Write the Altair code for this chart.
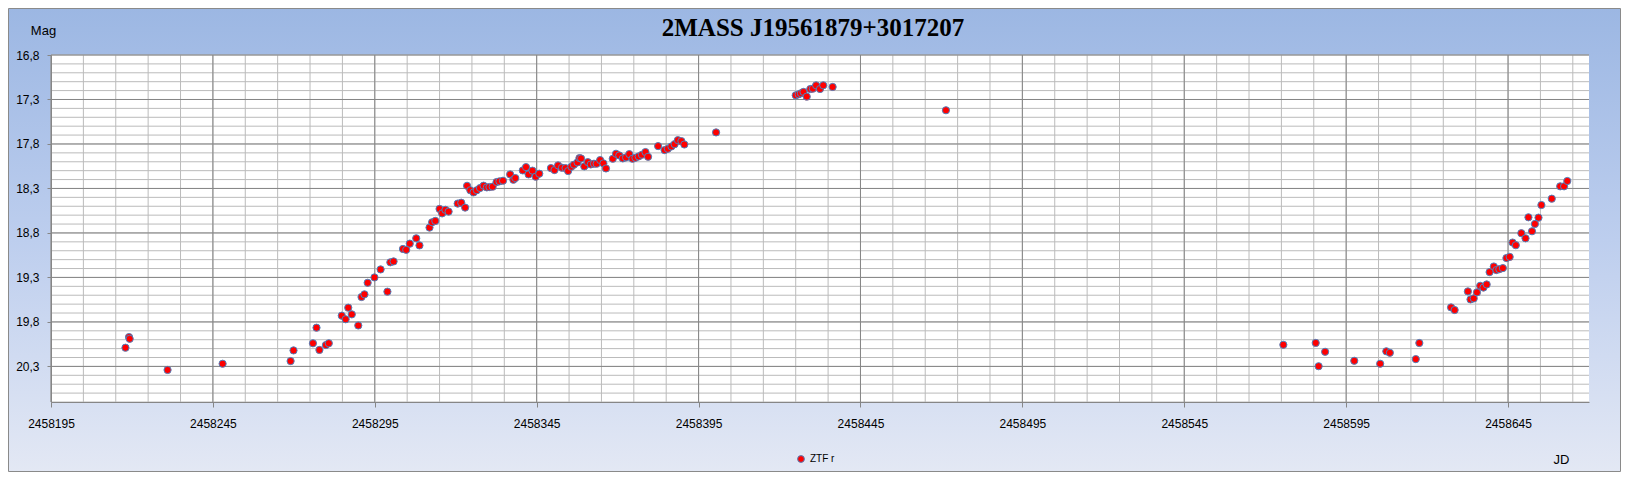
import altair as alt
import pandas as pd

# ---- data ----
jd = [
    2458218.0, 2458219.1, 2458219.3, 2458231.0, 2458248.0, 2458269.0, 2458269.9, 2458275.9,
    2458277.0, 2458277.9, 2458279.9, 2458280.8, 2458284.8, 2458286.0, 2458286.8, 2458287.9,
    2458289.9, 2458290.9, 2458291.8, 2458292.8, 2458294.9, 2458296.8, 2458298.9, 2458299.8,
    2458300.8, 2458303.7, 2458304.7, 2458305.8, 2458307.8, 2458308.8, 2458311.9, 2458312.7,
    2458313.7, 2458315.0, 2458315.8, 2458316.8, 2458317.8, 2458320.6, 2458321.7, 2458322.9,
    2458323.5, 2458324.5, 2458325.5, 2458326.5, 2458327.5, 2458328.6, 2458329.6, 2458330.4,
    2458331.4, 2458332.6, 2458333.5, 2458334.6, 2458336.8, 2458337.8, 2458338.4, 2458340.7,
    2458341.7, 2458342.5, 2458343.7, 2458344.7, 2458345.8, 2458349.4, 2458350.5, 2458351.6,
    2458352.8, 2458353.9, 2458354.7, 2458355.7, 2458356.5, 2458357.6, 2458358.2, 2458358.7,
    2458359.7, 2458360.8, 2458361.7, 2458362.7, 2458363.5, 2458364.6, 2458365.6, 2458366.4,
    2458368.5, 2458369.5, 2458370.5, 2458371.6, 2458372.6, 2458373.6, 2458374.6, 2458375.5,
    2458376.5, 2458377.5, 2458378.6, 2458379.4, 2458382.5, 2458384.5, 2458385.5, 2458386.6,
    2458387.6, 2458388.6, 2458389.7, 2458390.6, 2458400.4,
    2458425.0, 2458425.9, 2458426.6, 2458427.4, 2458428.4, 2458429.5, 2458430.3, 2458431.3,
    2458432.5, 2458433.5, 2458436.4, 2458471.4,
    2458575.6, 2458585.6, 2458586.5, 2458588.5, 2458597.5, 2458605.5, 2458607.4, 2458608.5,
    2458616.5, 2458617.6, 2458627.4, 2458628.5, 2458632.6, 2458633.4, 2458634.4, 2458635.4,
    2458636.4, 2458637.4, 2458638.4, 2458639.3, 2458640.6, 2458641.4, 2458642.3, 2458643.4,
    2458644.5, 2458645.5, 2458646.4, 2458647.4, 2458649.1, 2458650.4, 2458651.3, 2458652.4,
    2458653.3, 2458654.4, 2458655.3, 2458658.5, 2458661.1, 2458662.3, 2458663.3,
]
mag = [
    20.09, 19.97, 19.99, 20.34, 20.27, 20.24, 20.12, 20.04,
    19.865, 20.115, 20.06, 20.04, 19.73, 19.77, 19.64, 19.715,
    19.84, 19.52, 19.49, 19.36, 19.30, 19.21, 19.46, 19.13,
    19.12, 18.98, 18.99, 18.92, 18.86, 18.94, 18.74, 18.68,
    18.665, 18.53, 18.58, 18.54, 18.56, 18.47, 18.46, 18.515,
    18.27, 18.32, 18.344, 18.32, 18.295, 18.269, 18.288, 18.284,
    18.28, 18.228, 18.22, 18.213, 18.142, 18.202, 18.183, 18.097,
    18.06, 18.142, 18.10, 18.168, 18.134, 18.071, 18.093, 18.041,
    18.067, 18.071, 18.104, 18.056, 18.033, 18.007, 17.959, 17.963,
    18.052, 18.004, 18.03, 18.022, 18.022, 17.981, 18.018, 18.075,
    17.966, 17.91, 17.929, 17.962, 17.951, 17.914, 17.966, 17.955,
    17.94, 17.921, 17.891, 17.944, 17.824, 17.869, 17.854, 17.828,
    17.802, 17.757, 17.768, 17.806, 17.67,
    17.253, 17.242, 17.23, 17.215, 17.268, 17.182, 17.178, 17.141,
    17.182, 17.141, 17.159, 17.421,
    20.057, 20.036, 20.298, 20.136, 20.237, 20.27, 20.13, 20.147,
    20.218, 20.037, 19.637, 19.666, 19.457, 19.547, 19.536, 19.468,
    19.394, 19.414, 19.379, 19.24, 19.177, 19.217, 19.207, 19.195,
    19.082, 19.069, 18.908, 18.938, 18.803, 18.86, 18.624, 18.781,
    18.699, 18.628, 18.486, 18.415, 18.276, 18.276, 18.216,
]
series_name = "ZTF r"
title_text = "2MASS J19561879+3017207"

x_major_ticks = [2458195, 2458245, 2458295, 2458345, 2458395, 2458445,
                 2458495, 2458545, 2458595, 2458645]
x_minor_ticks = [2458195 + 10 * k for k in range(48)]
y_major_ticks = [16.8, 17.3, 17.8, 18.3, 18.8, 19.3, 19.8, 20.3]
y_minor_ticks = [round(16.8 + 0.1 * k, 1) for k in range(40)]

# ---- layout ----
W, H = 1538, 347
PAD = {"left": 43, "top": 47, "right": 32, "bottom": 70}
FONT = "Liberation Sans"
MINOR = "#BBBBBB"
MAJOR = "#868686"

pts = pd.DataFrame({"jd": jd, "mag": mag, "band": [series_name] * len(jd)})

xscale = alt.Scale(domain=[2458195, 2458670], zero=False, nice=False)
yscale = alt.Scale(domain=[16.8, 20.7], reverse=True, zero=False, nice=False)

xaxis = alt.Axis(
    values=x_major_ticks, format="d", grid=False, zindex=1,
    labelFont=FONT, labelFontSize=12, labelColor="black",
    labelFlush=False, labelOverlap=False, labelPadding=11,
    tickSize=5, tickColor=MAJOR, domainColor=MAJOR,
    title="JD", titleFont=FONT, titleFontSize=13, titleFontWeight="normal",
    titleColor="black", titleX=1510, titleY=57, titleAlign="center",
    titleBaseline="middle", titleAnchor="start",
)
yaxis = alt.Axis(
    values=y_major_ticks, grid=False, zindex=1,
    labelExpr="replace(format(datum.value, '.1f'), '.', ',')",
    labelFont=FONT, labelFontSize=12, labelColor="black",
    labelFlush=False, labelOverlap=False, labelPadding=8,
    tickSize=4, tickColor=MAJOR, domainColor=MAJOR,
    title="Mag", titleFont=FONT, titleFontSize=13, titleFontWeight="normal",
    titleColor="black", titleAngle=0, titleX=-8, titleY=-25,
    titleAlign="center", titleBaseline="middle", titleAnchor="start",
)

one = pd.DataFrame({"a": [0]})

bg = alt.Chart(one).mark_rect(
    fill={"gradient": "linear", "x1": 0, "y1": 0, "x2": 0, "y2": 1,
          "stops": [{"offset": 0, "color": "#9CB7E3"},
                    {"offset": 0.5, "color": "#BDCEEE"},
                    {"offset": 1, "color": "#E3E8F4"}]},
    stroke="#8A8A8A", strokeWidth=1,
).encode(
    x=alt.value(-PAD["left"] + 0.5), x2=alt.value(W + PAD["right"] - 0.5),
    y=alt.value(-PAD["top"] + 0.5), y2=alt.value(H + PAD["bottom"] - 0.5),
)

plot_bg = alt.Chart(one).mark_rect(fill="white").encode(
    x=alt.value(0), x2=alt.value(W), y=alt.value(0), y2=alt.value(H)
)

def vrules(vals, color):
    return alt.Chart(pd.DataFrame({"jd": vals})).mark_rule(color=color, strokeWidth=1).encode(
        x=alt.X("jd:Q", scale=xscale, axis=xaxis), y=alt.value(0), y2=alt.value(H)
    )

def hrules(vals, color):
    return alt.Chart(pd.DataFrame({"mag": vals})).mark_rule(color=color, strokeWidth=1).encode(
        y=alt.Y("mag:Q", scale=yscale, axis=yaxis), x=alt.value(0), x2=alt.value(W)
    )

title = alt.Chart(one).mark_text(
    text=title_text, font="Liberation Serif", fontSize=25, fontWeight="bold",
    align="center", baseline="middle", color="black",
).encode(x=alt.value(762), y=alt.value(-27))

points = alt.Chart(pts).mark_circle(
    size=52, stroke="#4F81BD", strokeWidth=1, opacity=1
).encode(
    x=alt.X("jd:Q", scale=xscale, axis=xaxis),
    y=alt.Y("mag:Q", scale=yscale, axis=yaxis),
    fill=alt.Fill("band:N", scale=alt.Scale(domain=[series_name], range=["#FF0000"]),
                  legend=alt.Legend(
                      title=None, orient="none", legendX=745, legendY=399,
                      labelFont=FONT, labelFontSize=10, labelColor="black",
                      symbolType="circle", symbolSize=46,
                      symbolStrokeColor="#4F81BD", symbolStrokeWidth=1,
                      symbolFillColor="#FF0000", padding=0,
                  )),
)

chart = alt.layer(
    bg, plot_bg,
    vrules(x_minor_ticks, MINOR), hrules(y_minor_ticks, MINOR),
    vrules(x_major_ticks, MAJOR), hrules(y_major_ticks, MAJOR),
    points, title,
).properties(
    width=W, height=H,
    autosize=alt.AutoSizeParams(type="none"),
    padding=PAD,
).configure_view(strokeWidth=0)

chart.save("out.html", embed_options={"renderer": "svg", "actions": False})
